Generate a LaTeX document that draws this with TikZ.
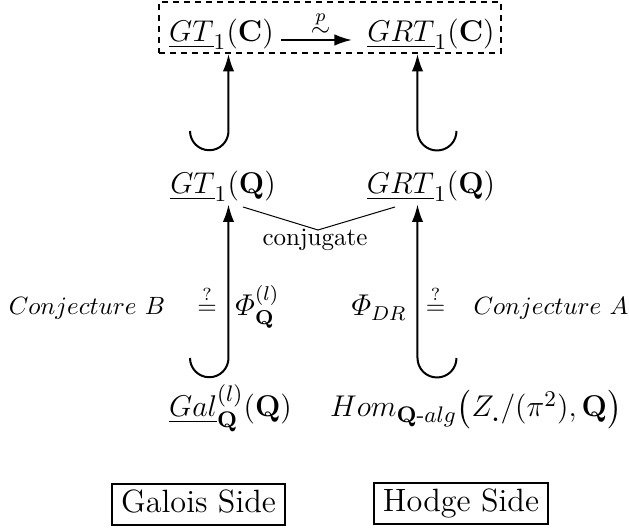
\documentclass[tikz,border=0pt]{standalone}
\usepackage{amsmath,amssymb}
\usetikzlibrary{arrows.meta,fit}

\begin{document}
\begin{tikzpicture}[x=0.4pt,y=-0.4pt,>={Latex[length=7pt,width=4.6pt]},
    obj/.style={font=\fontsize{12.4}{15}\selectfont,inner sep=1pt,anchor=base},
    lbl/.style={inner sep=0pt,anchor=base},
    incl/.style={->,line width=0.8pt},
    sidebox/.style={draw,line width=0.8pt,font=\fontsize{12.9}{15}\selectfont,
        inner xsep=3.6pt,inner ysep=2.4pt,text height=9pt,text depth=2.6pt}]
    \useasboundingbox (0,0) rectangle (629,531);
    % Top row, inside the dashed box
    \node[obj] (gtc) at (221.5,42) {$\underline{GT}_1(\mathbf{C})$};
    \node[obj] (grtc) at (431,42) {$\underline{GRT}_1(\mathbf{C})$};
    \node[draw,dashed,line width=0.8pt,dash pattern=on 2.4pt off 2pt,
        inner sep=0pt,fit={(159,2) (501,53)}] (topbox) {};
    \draw[->,line width=0.8pt,shorten <=1.8pt,shorten >=5pt]
        ([yshift=-2.2pt]gtc.east) -- node[above,inner sep=1pt] (iso) {$\overset{p}{\sim}$}
        ([yshift=-2.2pt]grtc.west);
    % Middle row
    \node[obj] (gtq) at (223,194) {$\underline{GT}_1(\mathbf{Q})$};
    \node[obj] (grtq) at (431,194) {$\underline{GRT}_1(\mathbf{Q})$};
    \coordinate (cjl) at (243,207);
    \coordinate (cjm) at (318,230);
    \coordinate (cjr) at (395,207);
    \draw (cjl) -- (cjm) -- (cjr);
    \node[lbl] (conj) at (315,246) {conjugate};
    % Bottom row
    \node[obj] (gal) at (230.5,417) {$\underline{Gal}^{(l)}_{\mathbf{Q}}(\mathbf{Q})$};
    \node[obj,font=\fontsize{12.9}{15}\selectfont] (hom) at (476,417)
        {$Hom_{\mathbf{Q}\text{-}alg}\big(Z_{\textbf{.}}/(\pi^2),\mathbf{Q}\big)$};
    % Hook arrows
    \coordinate (lx) at (228.5,0);
    \coordinate (rx) at (417.5,0);
    \coordinate (hka) at (190,131);
    \coordinate (hkb) at (456.5,131);
    \coordinate (hkc) at (190,358);
    \coordinate (hkd) at (456.5,358);
    \draw[incl] (hka) arc[start angle=180,end angle=0,radius=19.25] -- (topbox.south -| lx);
    \draw[incl] (hkb) arc[start angle=0,end angle=180,radius=19.5] -- (topbox.south -| rx);
    \draw[incl] (hkc) arc[start angle=180,end angle=0,radius=19.25] -- (gtq.south -| lx);
    \draw[incl] (hkd) arc[start angle=0,end angle=180,radius=19.5] -- (grtq.south -| rx);
    % Labels of the lower arrows
    \node[lbl] (conjb) at (87,315) {$Conjecture\ B$};
    \node[lbl] (eqb) at (207,315) {$\overset{?}{=}$};
    \node[lbl,anchor=base west,font=\large] (phiq) at (235,316) {$\varPhi^{(l)}_{\mathbf{Q}}$};
    \node[lbl,anchor=base east,font=\large] (phidr) at (407,316) {$\varPhi_{DR}$};
    \node[lbl] (eqa) at (435.5,315) {$\overset{?}{=}$};
    \node[lbl] (conja) at (551,315) {$Conjecture\ A$};
    % Sides
    \node[sidebox] (galois) at (198.5,504.5) {Galois Side};
    \node[sidebox] (hodge) at (461,504) {Hodge Side};
\end{tikzpicture}
\end{document}
